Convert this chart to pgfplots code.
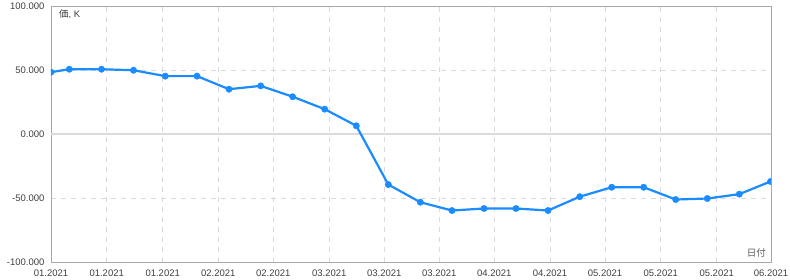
\documentclass[border=0pt]{standalone}
\usepackage{pgfplots}
\pgfplotsset{compat=1.18}
\usepackage{fontspec}
\setmainfont{Liberation Sans}
\newfontfamily\jp{Noto Sans CJK JP}
\definecolor{linec}{HTML}{1A8CFF}
\definecolor{gridc}{HTML}{DADADA}
\definecolor{axisc}{HTML}{A8A8A8}
\definecolor{txtc}{HTML}{404040}
\begin{document}
\begin{tikzpicture}
\begin{axis}[
  scale only axis,
  width=720pt, height=256pt,
  xmin=51, xmax=771,
  ymin=-100, ymax=100,
  xtick={51,106.7,162.7,218.3,273.3,329.3,384.3,439.3,494.3,550,605,660.7,716.7,771},
  xticklabels={01.2021,01.2021,01.2021,02.2021,02.2021,03.2021,03.2021,03.2021,04.2021,04.2021,05.2021,05.2021,05.2021,06.2021},
  ytick={-100,-50,50,100},
  extra y ticks={0},
  extra y tick style={grid=major, major grid style={solid, color=gridc, line width=1.3pt}},
  grid=major,
  major grid style={dash pattern=on 5pt off 5pt, color=gridc, line width=0.9pt},
  major tick length=0pt,
  axis line style={axisc, line width=0.9pt},
  tick label style={font=\fontsize{9.5}{11}\selectfont, text=txtc},
  /pgf/number format/assume math mode=true,
  yticklabel={\pgfmathprintnumber[fixed, fixed zerofill, precision=3, 1000 sep={}]{\tick}},
  yticklabel style={xshift=-3pt},
  xticklabel style={yshift=-4pt},
  clip marker paths=true,
]
\addplot[color=linec, line width=2.2pt, mark=*, mark size=3.2pt, mark options={solid, fill=linec, draw=linec, line width=0.4pt}] coordinates {
(51,48.3)
(69.3,50.6)
(101.5,50.6)
(133.5,49.8)
(165.3,45.2)
(197,45.2)
(229,35.0)
(260.7,37.6)
(292.7,29.1)
(324.7,19.4)
(356.3,6.4)
(388.3,-39.5)
(420.3,-53.3)
(452,-59.8)
(484,-58.2)
(516,-58.2)
(548,-59.8)
(579.7,-49.0)
(611.7,-41.6)
(643.7,-41.6)
(675.7,-51.2)
(707.3,-50.4)
(739.3,-47.0)
(770.5,-37.1)
};
\node[anchor=west, font=\fontsize{9.5}{11}\selectfont, text=txtc, inner sep=0pt] at (rel axis cs:0,1) [xshift=8pt, yshift=-8.5pt] {{\jp 価}, K};
\node[anchor=east, font=\jp\fontsize{9.5}{11}\selectfont, text=txtc!85, inner sep=0pt] at (rel axis cs:1,0) [xshift=-5pt, yshift=9pt] {日付};
\end{axis}
\pgfresetboundingbox
\useasboundingbox (-51pt,-18pt) rectangle (739pt,262pt);
\end{tikzpicture}
\end{document}
